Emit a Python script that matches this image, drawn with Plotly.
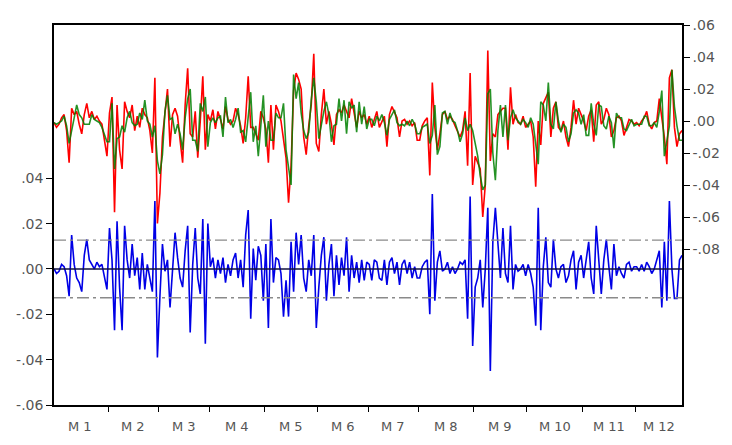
import plotly.graph_objects as go

# Trading days per month and month labels
month_sizes = [22, 20, 20, 22, 21, 20, 20, 22, 21, 22, 21, 19]
month_labels = ["M 1", "M 2", "M 3", "M 4", "M 5", "M 6",
                "M 7", "M 8", "M 9", "M 10", "M 11", "M 12"]

# Actual series (right axis), one row per month
actual = [
    -0.001, -0.004, -0.002, 0.002, 0.004, -0.006, -0.026, 0.008, 0.004, 0.006, -0.002,
    -0.008, 0.004, 0.011, 0.002, 0.006, 0.001, 0.003, 0.000, -0.002, -0.012, -0.022,
    0.005, 0.015, -0.057, 0.010, -0.018, -0.030, 0.012, 0.006, 0.002, 0.010,
    -0.006, 0.003, -0.004, 0.008, 0.004, 0.002, -0.006, -0.020, 0.027, -0.064,
    -0.045, -0.010, 0.005, 0.020, -0.016, 0.004, 0.008, 0.003, -0.012, -0.026,
    0.010, 0.033, -0.008, -0.010, 0.006, -0.023, 0.000, 0.028, -0.018, 0.004,
    0.000, 0.007, -0.005, 0.006, 0.001, -0.005, 0.009, 0.001, -0.002, 0.000, 0.008,
    0.004, -0.003, -0.014, 0.002, 0.028, -0.004, -0.004, -0.008, -0.012, 0.006, 0.002,
    -0.005, -0.026, 0.010, -0.018, 0.010, 0.006, 0.000, -0.010, -0.023, -0.051, -0.028,
    0.019, 0.030, 0.026, 0.020, -0.010, -0.021, -0.003, 0.010, 0.042, -0.014,
    -0.019, 0.004, 0.020, -0.002, 0.006, -0.002, -0.015, 0.004, 0.007, 0.005,
    0.010, 0.006, 0.002, 0.014, 0.006, -0.004, 0.006, 0.002, 0.004, -0.002,
    0.003, -0.004, 0.001, 0.006, -0.004, -0.001, 0.003, -0.016, 0.004, 0.009,
    0.005, 0.002, -0.010, 0.000, 0.001, -0.002, 0.000, -0.003, -0.001, -0.012,
    -0.012, -0.003, 0.000, 0.002, -0.034, 0.024, -0.004, -0.018, -0.008, 0.004, 0.006,
    0.001, 0.003, 0.001, -0.003, -0.006, -0.010, -0.006, 0.006, -0.028, 0.030, -0.040,
    -0.022, -0.026, -0.030, -0.060, -0.040, 0.044, -0.025, -0.008, -0.010, 0.004, 0.006,
    0.008, 0.008, -0.018, 0.021, -0.002, 0.004, -0.001, -0.002, 0.003, -0.004,
    -0.002, 0.000, -0.010, -0.041, 0.000, -0.015, 0.011, 0.014, 0.018, -0.010, 0.008,
    0.012, -0.004, -0.006, 0.000, -0.010, -0.016, -0.004, 0.013, -0.002, 0.008, 0.004,
    0.000, -0.006, 0.003, 0.007, -0.013, 0.010, 0.012, -0.002, 0.001, 0.008, 0.004,
    -0.010, -0.006, 0.002, 0.003, 0.000, -0.009, -0.004, 0.001, 0.000, -0.002,
    -0.001, -0.003, 0.000, 0.002, 0.006, -0.002, -0.005, -0.001, 0.000, 0.014,
    0.002, -0.010, -0.027, 0.027, 0.032, -0.004, -0.016, -0.008, -0.006,
]

# Residual series (left axis), one row per month
resid = [
    0.000, -0.002, -0.001, 0.002, 0.001, -0.003, -0.012, 0.015, 0.002, -0.004, -0.006,
    -0.010, 0.006, 0.013, 0.004, 0.002, 0.000, 0.003, 0.001, 0.002, -0.004, -0.009,
    0.018, 0.004, -0.027, 0.021, -0.008, -0.027, 0.019, 0.004, -0.004, 0.011,
    -0.003, 0.005, -0.009, 0.007, -0.009, 0.002, -0.004, -0.010, 0.030, -0.039,
    -0.012, 0.011, -0.001, 0.004, -0.017, 0.002, 0.016, 0.005, -0.004, -0.008,
    0.008, 0.019, -0.028, 0.002, 0.018, -0.004, -0.011, 0.022, -0.033, 0.020,
    0.001, 0.005, -0.004, 0.004, -0.002, 0.005, -0.006, 0.002, -0.003, 0.004, 0.007,
    -0.004, 0.004, -0.008, 0.015, 0.026, -0.022, 0.009, -0.005, 0.010, 0.006, -0.014,
    0.011, -0.026, 0.022, -0.006, 0.005, 0.004, -0.002, -0.021, -0.005, -0.021, 0.012,
    -0.010, 0.016, 0.002, 0.015, -0.004, -0.010, 0.004, -0.003, 0.015, -0.026,
    -0.008, 0.006, 0.014, -0.014, 0.002, 0.011, -0.012, 0.006, -0.007, 0.005,
    -0.003, 0.014, -0.010, 0.006, -0.004, 0.003, -0.006, 0.004, -0.005, 0.003,
    0.002, -0.005, 0.004, 0.003, -0.004, -0.005, 0.004, -0.007, 0.003, 0.005,
    -0.002, 0.003, -0.007, 0.002, 0.004, -0.002, 0.003, -0.004, 0.001, -0.004,
    -0.004, 0.001, 0.003, 0.004, -0.020, 0.033, -0.014, 0.003, 0.008, -0.001, 0.000,
    0.003, -0.002, 0.001, -0.002, 0.000, 0.003, 0.002, 0.004, -0.022, 0.032, -0.034,
    -0.008, -0.004, 0.004, -0.017, 0.000, 0.027, -0.045, 0.012, 0.027, 0.010, -0.004,
    0.018, -0.002, -0.006, 0.019, -0.009, 0.002, -0.001, 0.000, 0.002, -0.003,
    0.002, -0.002, -0.008, -0.025, 0.027, -0.027, 0.001, 0.014, -0.006, -0.008, 0.013,
    0.000, -0.004, 0.001, 0.002, -0.006, -0.003, 0.004, 0.008, -0.009, 0.003, 0.006,
    -0.004, 0.003, 0.012, -0.004, -0.011, 0.019, 0.002, -0.011, 0.004, 0.013, 0.001,
    -0.009, 0.011, -0.003, 0.001, -0.002, -0.004, 0.002, 0.003, -0.001, 0.001,
    0.001, -0.001, 0.002, -0.001, 0.003, 0.001, -0.002, 0.000, 0.004, 0.008,
    -0.017, 0.012, -0.014, 0.030, 0.000, -0.013, -0.013, 0.004, 0.006,
]

se_band = 0.0127  # standard error of the regression

left_ticks = [-0.06, -0.04, -0.02, 0.00, 0.02, 0.04]
left_text = ["-.06", "-.04", "-.02", ".00", ".02", ".04"]
right_ticks = [-0.08, -0.06, -0.04, -0.02, 0.00, 0.02, 0.04, 0.06]
right_text = ["-.08", "-.06", "-.04", "-.02", ".00", ".02", ".04", ".06"]

n = len(actual)
obs = list(range(1, n + 1))
fitted = [a - r for a, r in zip(actual, resid)]

# Month boundaries (tick marks) and centres (labels)
bounds, centres = [], []
start = 1
for size in month_sizes:
    centres.append(start + (size - 1) / 2)
    start += size
    bounds.append(start - 0.5)
bounds = bounds[:-1]

fig = go.Figure()

fig.add_trace(go.Scatter(x=obs, y=resid, mode="lines",
                         line=dict(color="#0000e6", width=1.6),
                         yaxis="y", name="Residual"))
fig.add_trace(go.Scatter(x=[1, n], y=[0, 0], mode="lines",
                         line=dict(color="#101040", width=1.4),
                         yaxis="y", hoverinfo="skip"))
for lvl in (se_band, -se_band):
    fig.add_trace(go.Scatter(x=[1, n], y=[lvl, lvl], mode="lines",
                             line=dict(color="#8a8a8a", width=1.3,
                                       dash="12px,4px,3px,4px"),
                             yaxis="y", hoverinfo="skip"))

fig.add_trace(go.Scatter(x=obs, y=actual, mode="lines",
                         line=dict(color="#ff0000", width=1.6),
                         yaxis="y2", name="Actual"))
fig.add_trace(go.Scatter(x=obs, y=fitted, mode="lines",
                         line=dict(color="#008000", width=1.6),
                         opacity=0.85, yaxis="y2", name="Fitted"))

tick_font = dict(family="DejaVu Sans", size=14, color="#555555")

for c, lab in zip(centres, month_labels):
    fig.add_annotation(x=c, y=0, xref="x", yref="paper", text=lab,
                       showarrow=False, yanchor="top", yshift=-12,
                       font=dict(family="DejaVu Sans", size=13, color="#555555"))

fig.update_layout(
    width=732, height=445,
    margin=dict(l=54, r=43, t=25, b=40),
    paper_bgcolor="white", plot_bgcolor="white",
    showlegend=False,
    xaxis=dict(range=[1, n], showgrid=False, zeroline=False,
               showline=True, linecolor="black", linewidth=1.5, mirror=True,
               tickmode="array", tickvals=bounds, showticklabels=False,
               ticks="outside", ticklen=5, tickwidth=1.2, tickcolor="black"),
    yaxis=dict(range=[-0.06, 0.1076], showgrid=False, zeroline=False,
               showline=True, linecolor="black", linewidth=1.5, mirror=True,
               tickmode="array", tickvals=left_ticks, ticktext=left_text,
               ticks="outside", ticklen=6, tickwidth=1.2, tickcolor="black",
               tickfont=tick_font),
    yaxis2=dict(range=[-0.1775, 0.06], overlaying="y", side="right",
                showgrid=False, zeroline=False,
                showline=True, linecolor="black", linewidth=1.5,
                tickmode="array", tickvals=right_ticks, ticktext=right_text,
                ticks="outside", ticklen=6, tickwidth=1.2, tickcolor="black",
                tickfont=tick_font),
)

fig.write_html("out.html")
